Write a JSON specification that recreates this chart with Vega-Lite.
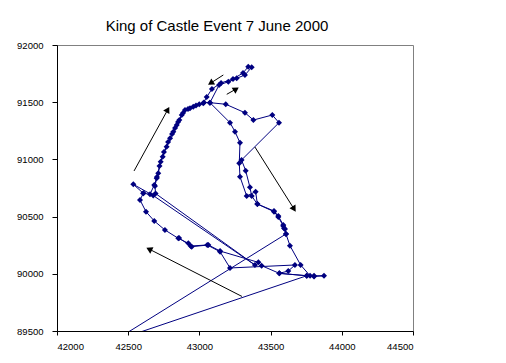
{
  "$schema": "https://vega.github.io/schema/vega-lite/v6.json",
  "width": 356,
  "height": 286,
  "autosize": {"type": "none"},
  "padding": {"left": 57, "top": 45, "right": 93, "bottom": 32},
  "background": "white",
  "title": {
    "text": "King of Castle Event  7 June 2000",
    "font": "Liberation Sans",
    "fontSize": 15,
    "fontWeight": "normal",
    "color": "black",
    "anchor": "middle",
    "frame": "group",
    "baseline": "alphabetic",
    "offset": 14,
    "dx": -18,
    "dy": 20
  },
  "datasets": {
    "track": [
      {"i":1,"x":42606,"y":90704},{"i":2,"x":42653,"y":90695},{"i":3,"x":42683,"y":90776},{"i":4,"x":42700,"y":90835},
      {"i":5,"x":42711,"y":90878},{"i":6,"x":42728,"y":90980},{"i":7,"x":42742,"y":91024},{"i":8,"x":42770,"y":91111},
      {"i":9,"x":42794,"y":91184},{"i":10,"x":42817,"y":91242},{"i":11,"x":42841,"y":91301},{"i":12,"x":42859,"y":91344},
      {"i":13,"x":42876,"y":91388},{"i":14,"x":42899,"y":91432},{"i":15,"x":42934,"y":91447},{"i":16,"x":42957,"y":91461},
      {"i":17,"x":42999,"y":91482},{"i":18,"x":43027,"y":91490},{"i":19,"x":43051,"y":91545},{"i":20,"x":43088,"y":91615},
      {"i":21,"x":43152,"y":91668},{"i":22,"x":43236,"y":91703},{"i":23,"x":43306,"y":91755},{"i":24,"x":43343,"y":91810},
      {"i":25,"x":43367,"y":91805},{"i":26,"x":43320,"y":91738},{"i":27,"x":43262,"y":91709},{"i":28,"x":43203,"y":91679},
      {"i":29,"x":43138,"y":91650},{"i":30,"x":43074,"y":91496},{"i":31,"x":43215,"y":91321},{"i":32,"x":43250,"y":91242},
      {"i":33,"x":43285,"y":91146},{"i":34,"x":43280,"y":90966},{"i":35,"x":43285,"y":90849},{"i":36,"x":43332,"y":90680},
      {"i":37,"x":43395,"y":90718},{"i":38,"x":43407,"y":90610},{"i":39,"x":43524,"y":90549},{"i":40,"x":43554,"y":90505},
      {"i":41,"x":43589,"y":90427},{"i":42,"x":43594,"y":90398},{"i":43,"x":43608,"y":90348},{"i":44,"x":43636,"y":90246},
      {"i":45,"x":43711,"y":90077},{"i":46,"x":43777,"y":89983},{"i":47,"x":43805,"y":89983},{"i":48,"x":43875,"y":89983},
      {"i":49,"x":43805,"y":89976},{"i":50,"x":43754,"y":89983},{"i":51,"x":43561,"y":90004},{"i":52,"x":43437,"y":90071},
      {"i":53,"x":43414,"y":90100},{"i":54,"x":43145,"y":90199},{"i":55,"x":43063,"y":90252},{"i":56,"x":42946,"y":90237},
      {"i":57,"x":42922,"y":90267},{"i":58,"x":42852,"y":90310},{"i":59,"x":42758,"y":90383},{"i":60,"x":42683,"y":90462},
      {"i":61,"x":42625,"y":90543},{"i":62,"x":42583,"y":90645},{"i":63,"x":42606,"y":90704},{"i":64,"x":42536,"y":90782},
      {"i":65,"x":42676,"y":90684},{"i":66,"x":43390,"y":90077},{"i":67,"x":42692,"y":90702},{"i":68,"x":42688,"y":90767},
      {"i":69,"x":42702,"y":90846},{"i":70,"x":42720,"y":90942},{"i":71,"x":42751,"y":91065},{"i":72,"x":42780,"y":91152},
      {"i":73,"x":42808,"y":91222},{"i":74,"x":42829,"y":91274},{"i":75,"x":42850,"y":91327},{"i":76,"x":42885,"y":91406},
      {"i":77,"x":42920,"y":91441},{"i":78,"x":42976,"y":91471},{"i":79,"x":43032,"y":91497},{"i":80,"x":43074,"y":91496},
      {"i":81,"x":43185,"y":91482},{"i":82,"x":43320,"y":91408},{"i":83,"x":43379,"y":91344},{"i":84,"x":43512,"y":91388},
      {"i":85,"x":43559,"y":91321},{"i":86,"x":43296,"y":90995},{"i":87,"x":43325,"y":90901},{"i":88,"x":43355,"y":90756},
      {"i":89,"x":43367,"y":90680},{"i":90,"x":43407,"y":90610},{"i":91,"x":43524,"y":90543},{"i":92,"x":43554,"y":90497},
      {"i":93,"x":43589,"y":90418},{"i":94,"x":43601,"y":90392},{"i":95,"x":43608,"y":90348},{"i":96,"x":42400,"y":89413},
      {"i":97,"x":43754,"y":89983},{"i":98,"x":43561,"y":90004},{"i":99,"x":43624,"y":90024},{"i":100,"x":43671,"y":90077},
      {"i":101,"x":43215,"y":90051},{"i":102,"x":43145,"y":90193},{"i":103,"x":43055,"y":90252},{"i":104,"x":42939,"y":90243},
      {"i":105,"x":42857,"y":90313}
    ],
    "arrows": [
      {"x0":42541,"y0":90899,"x1":42778,"y1":91435,"dir":29},
      {"x0":43168,"y0":91738,"x1":43079,"y1":91667,"dir":237},
      {"x0":43192,"y0":91569,"x1":43258,"y1":91615,"dir":57},
      {"x0":43390,"y0":91108,"x1":43665,"y1":90566,"dir":148},
      {"x0":43299,"y0":89802,"x1":42647,"y1":90216,"dir":297}
    ]
  },
  "layer": [
    {
      "data": {"name": "track"},
      "mark": {"type": "line", "color": "#000080", "strokeWidth": 1, "clip": true},
      "encoding": {
        "x": {"field": "x", "type": "quantitative", "scale": {"domain": [42000, 44500], "nice": false, "zero": false},
              "axis": {"values": [42000, 42500, 43000, 43500, 44000, 44500], "format": "d", "title": null, "grid": false,
                       "tickSize": 4, "labelPadding": 6, "domainColor": "black", "tickColor": "black",
                       "labelColor": "black", "labelFont": "Liberation Sans", "labelFontSize": 9.5}},
        "y": {"field": "y", "type": "quantitative", "scale": {"domain": [89500, 92000], "nice": false, "zero": false},
              "axis": {"values": [89500, 90000, 90500, 91000, 91500, 92000], "format": "d", "title": null, "grid": false,
                       "tickSize": 5, "labelPadding": 9, "domainColor": "black", "tickColor": "black",
                       "labelColor": "black", "labelFont": "Liberation Sans", "labelFontSize": 9.5}},
        "order": {"field": "i", "type": "quantitative"}
      }
    },
    {
      "data": {"name": "track"},
      "mark": {"type": "point", "shape": "diamond", "filled": true, "color": "#000080", "size": 36, "opacity": 1, "clip": true},
      "encoding": {
        "x": {"field": "x", "type": "quantitative"},
        "y": {"field": "y", "type": "quantitative"}
      }
    },
    {
      "data": {"name": "arrows"},
      "mark": {"type": "rule", "color": "black", "strokeWidth": 1},
      "encoding": {
        "x": {"field": "x0", "type": "quantitative"},
        "y": {"field": "y0", "type": "quantitative"},
        "x2": {"field": "x1"},
        "y2": {"field": "y1"}
      }
    },
    {
      "data": {"name": "arrows"},
      "mark": {"type": "point", "shape": "triangle-up", "filled": true, "color": "black", "size": 50, "opacity": 1},
      "encoding": {
        "x": {"field": "x1", "type": "quantitative"},
        "y": {"field": "y1", "type": "quantitative"},
        "angle": {"field": "dir", "type": "quantitative", "scale": null}
      }
    }
  ],
  "config": {
    "view": {"stroke": "#808080", "strokeWidth": 1},
    "font": "Liberation Sans"
  }
}
